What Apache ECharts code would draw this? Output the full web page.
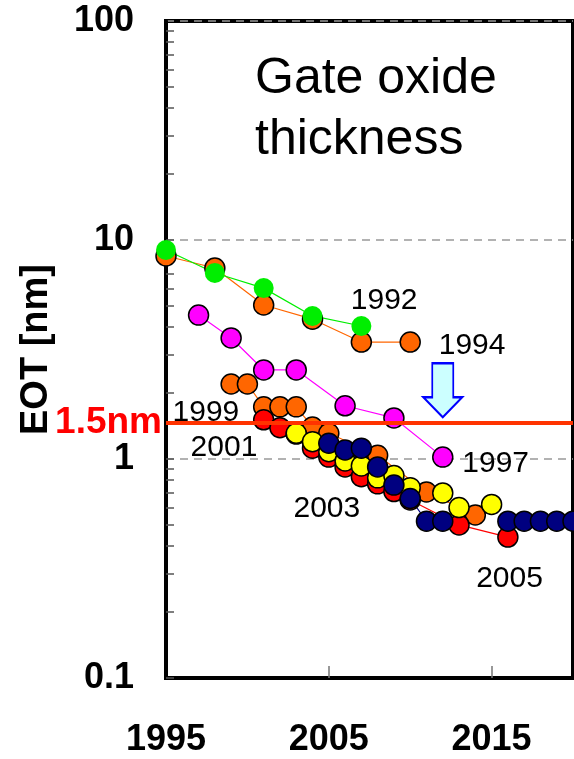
<!DOCTYPE html>
<html>
<head>
<meta charset="utf-8">
<script src="https://cdn.jsdelivr.net/npm/echarts@6/dist/echarts.min.js"></script>
<style>
  html, body { margin: 0; padding: 0; background: #fff; }
  #main { width: 574px; height: 759px; }
</style>
</head>
<body>
<div id="main"></div>
<script>
// roadmap data : year / EOT [nm]
var years1994 = [1995, 1998, 2001, 2004, 2007, 2010];
var eot1994 = [8.45, 7.45, 5.05, 4.35, 3.42, 3.42];
var years1992 = [1995, 1998, 2001, 2004, 2007];
var eot1992 = [9.0, 7.07, 6.03, 4.5, 4.05];
var years1997 = [1997, 1999, 2001, 2003, 2006, 2009, 2012];
var eot1997 = [4.54, 3.57, 2.55, 2.55, 1.75, 1.54, 1.02];
var years1999 = [1999, 2000, 2001, 2002, 2003, 2004, 2005, 2008, 2011, 2014];
var eot1999 = [2.2, 2.2, 1.73, 1.73, 1.73, 1.40, 1.31, 1.04, 0.707, 0.555];
var years2001 = [2001, 2002, 2003, 2004, 2005, 2006, 2007, 2008, 2009, 2010, 2013, 2016];
var eot2001 = [1.51, 1.39, 1.30, 1.12, 1.02, 0.92, 0.83, 0.77, 0.71, 0.65, 0.5, 0.44];
var years2003 = [2003, 2004, 2005, 2006, 2007, 2008, 2009, 2010, 2012, 2013, 2015];
var eot2003 = [1.31, 1.2, 1.08, 0.98, 0.93, 0.82, 0.84, 0.74, 0.70, 0.60, 0.62];
var years2005 = [2005, 2006, 2007, 2008, 2009, 2010, 2011, 2012, 2014, 2016, 2017, 2018, 2019, 2020];
var eot2005 = [1.18, 1.1, 1.12, 0.92, 0.76, 0.66, 0.52, 0.52, null, 0.52, 0.52, 0.52, 0.52, 0.52];

// labels of the roadmaps (placed in data units)
var noteText = ['1992', '1994', '1999', '2001', '1997', '2003', '2005'];
var noteYear = [2008.4, 2013.8, 1997.45, 1998.56, 2015.25, 2004.88, 2016.1];
var noteEot = [5.27, 3.28, 1.62, 1.13, 0.949, 0.591, 0.284];

var xTickLabels = [1995, 2005, 2015];
var xTicks = [2005, 2015];
var yMinorTicks = [];
[0.1, 1, 10].forEach(function(d) {
	for (var k = 1; k <= 9; k++) yMinorTicks.push(+(d * k).toFixed(3));
});
var limitEot = 1.47;   // 1.5nm line
var arrowYear = 2012, arrowEot = 2.06;

var font = 'Liberation Sans, Arial, sans-serif';

function pairs(xs, ys) {
	var out = [];
	for (var i = 0; i < xs.length; i++) {
		out.push([xs[i], ys[i] == null ? '-' : ys[i]]);
	}
	return out;
}

function roadmap(name, xs, ys, color, noBorder) {
	return {
		name: name,
		type: 'line',
		data: pairs(xs, ys),
		symbol: 'circle',
		symbolSize: 20,
		connectNulls: false,
		lineStyle: { color: color, width: 1.2 },
		itemStyle: {
			color: color,
			borderColor: '#000',
			borderWidth: noBorder ? 0 : 1.5
		},
		emphasis: { disabled: true },
		animation: false
	};
}

var chart = echarts.init(document.getElementById('main'));

var series = [
	roadmap('1994', years1994, eot1994, '#ff6600'),
	roadmap('1992', years1992, eot1992, '#00ee00', true),
	roadmap('1997', years1997, eot1997, '#ff00ff'),
	roadmap('1999', years1999, eot1999, '#ff6600'),
	roadmap('2001', years2001, eot2001, '#ff0000'),
	roadmap('2003', years2003, eot2003, '#ffff00'),
	roadmap('2005', years2005, eot2005, '#000080')
];

// 1.5nm line
series[series.length - 1].markLine = {
	silent: true,
	symbol: ['none', 'none'],
	animation: false,
	lineStyle: { color: '#ff3300', width: 4, type: 'solid' },
	label: {
		show: true,
		position: 'start',
		distance: 4,
		formatter: '1.5nm',
		color: '#ff0000',
		fontFamily: font,
		fontWeight: 'bold',
		fontSize: 37
	},
	data: [{ yAxis: limitEot }]
};

// roadmap year labels
var notes = [];
for (var i = 0; i < noteText.length; i++) {
	notes.push({ name: noteText[i], value: [noteYear[i], noteEot[i]] });
}
series.push({
	type: 'scatter',
	data: notes,
	symbolSize: 0,
	silent: true,
	animation: false,
	z: 6,
	itemStyle: { opacity: 1 },
	label: {
		show: true,
		position: 'inside',
		formatter: '{b}',
		color: '#000',
		opacity: 1,
		fontFamily: font,
		fontSize: 30
	}
});

// arrow
series.push({
	type: 'scatter',
	data: [[arrowYear, arrowEot]],
	symbol: 'path://M9,0 L30,0 L30,34 L39,34 L19.5,54 L0,34 L9,34 Z',
	symbolSize: [39, 54],
	silent: true,
	animation: false,
	z: 6,
	itemStyle: { color: '#ccffff', borderColor: '#0000ff', borderWidth: 2, opacity: 1 }
});

var option = {
	animation: false,
	backgroundColor: '#fff',
	title: {
		text: 'Gate oxide\nthickness',
		left: 250,
		top: 44,
		textStyle: {
			fontFamily: font,
			fontWeight: 'normal',
			fontSize: 50,
			lineHeight: 61,
			color: '#000'
		}
	},
	grid: {
		left: 166,
		right: 1,
		top: 21,
		bottom: 81,
		show: true,
		borderColor: '#000',
		borderWidth: 4,
		backgroundColor: 'transparent'
	},
	xAxis: {
		type: 'value',
		min: 1995,
		max: 2020,
		axisLine: { show: true, lineStyle: { color: '#000', width: 4 } },
		axisTick: {
			show: true,
			inside: true,
			length: 12,
			customValues: xTicks,
			lineStyle: { color: '#777', width: 1.5 }
		},
		axisLabel: {
			customValues: xTickLabels,
			formatter: function(v) { return String(v); },
			margin: 44,
			color: '#000',
			fontFamily: font,
			fontWeight: 'bold',
			fontSize: 36
		},
		splitLine: { show: false }
	},
	yAxis: [{
		type: 'log',
		logBase: 10,
		min: 0.1,
		max: 100,
		name: 'EOT [nm]',
		nameLocation: 'middle',
		nameGap: 110,
		nameTextStyle: {
			fontFamily: font,
			fontWeight: 'bold',
			fontSize: 38,
			color: '#000'
		},
		axisLine: { show: true, lineStyle: { color: '#000', width: 4 } },
		axisTick: {
			show: true,
			inside: true,
			length: 8,
			customValues: yMinorTicks,
			lineStyle: { color: '#555', width: 1.5 }
		},
		axisLabel: {
			margin: 32,
			color: '#000',
			fontFamily: font,
			fontWeight: 'bold',
			fontSize: 36
		},
		splitLine: { show: false }
	}, {
		// only the dashed decade lines
		type: 'log',
		logBase: 10,
		min: 0.1,
		max: 100,
		position: 'left',
		axisLine: { show: false },
		axisTick: { show: false },
		axisLabel: { show: false },
		splitLine: {
			show: true,
			lineStyle: { color: '#999', type: [8, 6], width: 1.5 }
		}
	}],
	series: series
};

chart.setOption(option);
</script>
</body>
</html>
